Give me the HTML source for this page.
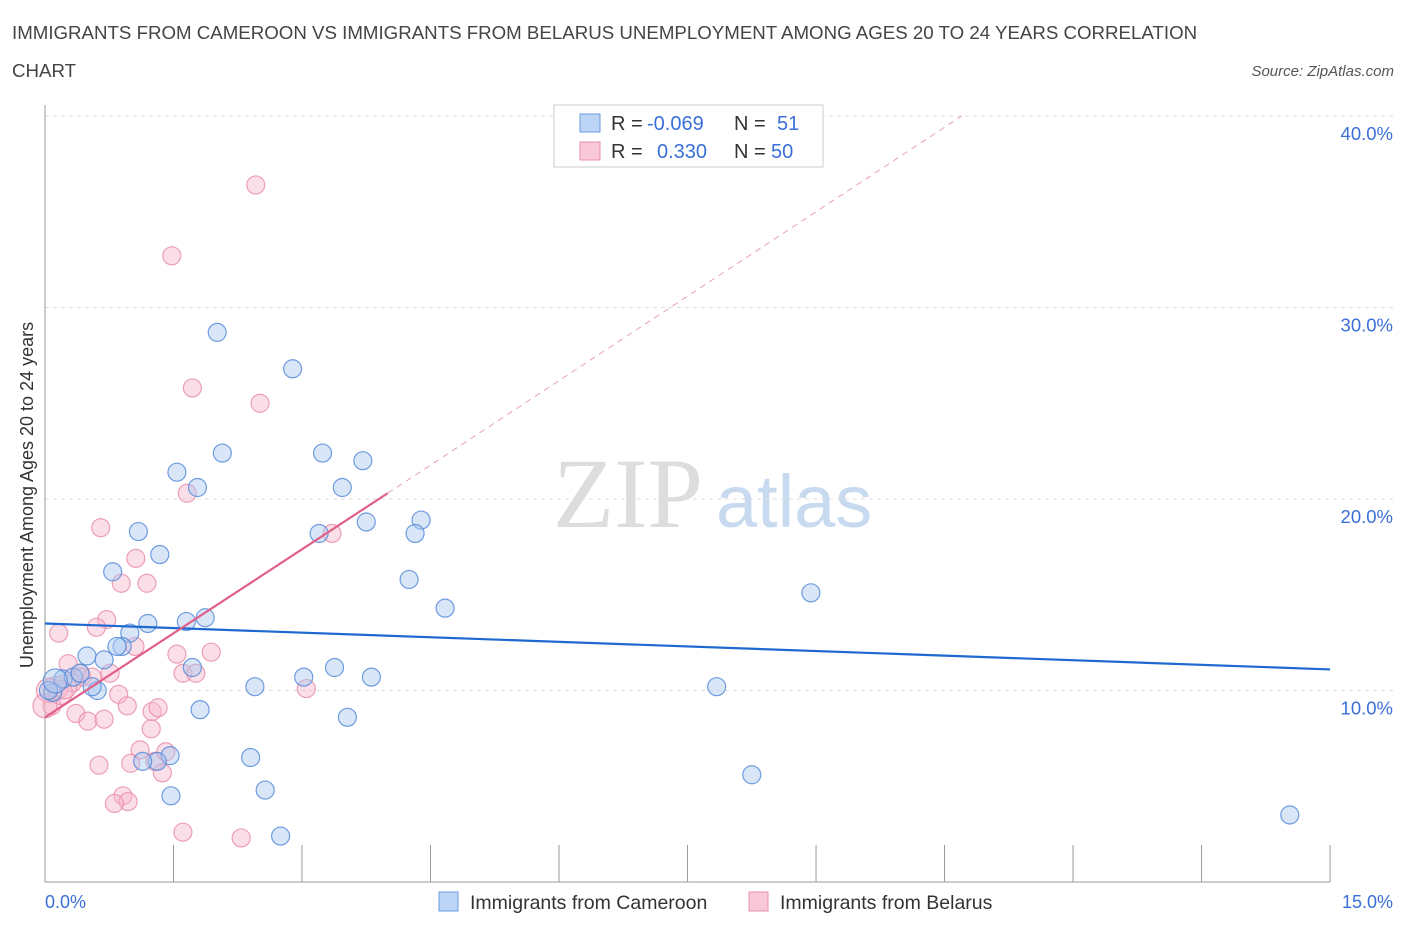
<!DOCTYPE html>
<html><head><meta charset="utf-8"><style>
body{margin:0;background:#fff;font-family:"Liberation Sans",sans-serif}
svg text{font-family:"Liberation Sans",sans-serif}
svg text.serif{font-family:"Liberation Serif",serif}
</style></head><body>
<svg width="1406" height="930">
<text x="12" y="39" font-size="18.7" fill="#444">IMMIGRANTS FROM CAMEROON VS IMMIGRANTS FROM BELARUS UNEMPLOYMENT AMONG AGES 20 TO 24 YEARS CORRELATION</text>
<text x="12" y="77" font-size="18.7" fill="#444">CHART</text>
<text x="1394" y="76" font-size="15" fill="#555" font-style="italic" text-anchor="end">Source: ZipAtlas.com</text>
<text class="serif" x="553" y="527" font-size="100" fill="#ddd">ZIP</text>
<text x="716" y="527" font-size="74" fill="#c8daf0">atlas</text>
<g id="grid"></g>
<line x1="45" y1="105" x2="45" y2="882" stroke="#999"/>
<line x1="45" y1="882" x2="1330" y2="882" stroke="#999"/>
<g id="xticks"></g>
<text x="33" y="495" font-size="18" fill="#333" text-anchor="middle" transform="rotate(-90 33 495)">Unemployment Among Ages 20 to 24 years</text>
<text x="45" y="908" font-size="18" fill="#3a6fd8">0.0%</text>
<text x="1393" y="908" font-size="18" fill="#3a6fd8" text-anchor="end">15.0%</text>
<g id="points"></g>
<g id="lines"></g>
<g>
<rect x="554" y="105" width="269" height="62" fill="#fff" stroke="#ccc"/>
<rect x="580" y="114" width="20" height="18" fill="#bcd4f5" stroke="#6a9be0"/>
<rect x="580" y="142" width="20" height="18" fill="#f8c8d8" stroke="#e890ae"/>
<text y="130" font-size="20" fill="#333"><tspan x="611">R =</tspan><tspan x="647" fill="#3a6fd8">-0.069</tspan><tspan x="734">N =</tspan><tspan x="777" fill="#3a6fd8">51</tspan></text>
<text y="158" font-size="20" fill="#333"><tspan x="611">R =</tspan><tspan x="657" fill="#3a6fd8">0.330</tspan><tspan x="734">N =</tspan><tspan x="771" fill="#3a6fd8">50</tspan></text>
</g>
<g>
<rect x="439" y="892" width="19" height="19" fill="#bcd4f5" stroke="#6a9be0"/>
<text x="470" y="909" font-size="19.5" fill="#333">Immigrants from Cameroon</text>
<rect x="749" y="892" width="19" height="19" fill="#f8c8d8" stroke="#e890ae"/>
<text x="780" y="909" font-size="19.5" fill="#333">Immigrants from Belarus</text>
</g>
</svg>
<script>
const yTicks=[10,20,30,40];
const xTickVals=[1.5,3,4.5,6,7.5,9,10.5,12,13.5,15];
const blueX=[2.01,2.89,2.07,3.24,1.54,3.71,1.78,3.47,1.09,3.75,3.2,4.39,4.32,1.34,4.25,0.79,4.67,8.94,1.2,1.65,1.87,0.99,0.9,0.84,0.49,0.69,1.72,3.38,3.02,3.81,2.45,0.61,7.84,0.21,0.33,0.09,0.04,1.81,3.53,1.46,1.31,2.4,8.25,1.47,2.57,2.75,14.53,0.55,0.41,0.12,1.14];
const blueY=[28.7,26.8,22.4,22.4,21.4,22.0,20.6,20.6,18.3,18.8,18.2,18.9,18.2,17.1,15.8,16.2,14.3,15.1,13.5,13.6,13.8,13.0,12.3,12.3,11.8,11.6,11.2,11.2,10.7,10.7,10.2,10.0,10.2,10.6,10.7,9.9,10.0,9.0,8.6,6.6,6.3,6.5,5.6,4.5,4.8,2.4,3.5,10.2,10.9,10.5,6.3];
const pinkX=[2.46,1.48,1.72,2.51,1.66,3.35,0.65,1.06,1.19,0.89,0.16,0.72,0.6,1.54,1.94,1.61,1.76,3.05,0.27,0.41,0.43,0.32,0.86,0.96,1.25,1.32,0.36,0.5,0.69,1.24,0.08,1.11,1.0,1.28,1.37,1.41,0.63,0.91,0.97,0.81,1.61,2.29,0.12,0.04,0.18,0.76,0.0,0.23,0.55,1.05];
const pinkY=[36.4,32.7,25.8,25.0,20.3,18.2,18.5,16.9,15.6,15.6,13.0,13.7,13.3,11.9,12.0,10.9,10.9,10.1,11.4,10.9,10.7,10.4,9.8,9.2,8.9,9.1,8.8,8.4,8.5,8.0,9.2,6.9,6.2,6.3,5.7,6.8,6.1,4.5,4.2,4.1,2.6,2.3,10.1,10.0,9.9,10.9,9.2,10.2,10.7,12.3];
const blueLine=[[0,13.5],[15,11.1]];
const pinkLine=[[0,8.6],[4,20.3]];
const pinkExt=[[4,20.3],[10.7,40.0]];
const sx=v=>45+v*85.67, sy=v=>882-v*19.15;
const NS='http://www.w3.org/2000/svg';
function mk(t,a,p){const e=document.createElementNS(NS,t);for(const k in a)e.setAttribute(k,a[k]);p.appendChild(e);return e;}
const grid=document.getElementById('grid');
yTicks.forEach(t=>{
 const l=mk('line',{x1:45,x2:1394,y1:sy(t),y2:sy(t),stroke:'#ddd','stroke-dasharray':'4,4'},grid);
 
 
 const tx=mk('text',{x:1393,y:sy(t)+24,'font-size':18.5,fill:'#3a6fd8','text-anchor':'end'},grid);
 tx.textContent=t.toFixed(1)+'%';
 
 
});
const xt=document.getElementById('xticks');
xTickVals.forEach(v=>{
 const l=mk('line',{x1:sx(v),x2:sx(v),y1:845,y2:882,stroke:'#999'},xt);
 
 
});
const pts=document.getElementById('points');
function draw(xs,ys,fill,stroke,name){
 xs.forEach((x,i)=>{
  const r=(i>=xs.length-9&&x<0.3)?12:9;
  const c=mk('circle',{cx:sx(x),cy:sy(ys[i]),r:r,fill:fill,'fill-opacity':0.45,stroke:stroke,'stroke-opacity':0.8,'stroke-width':1.2},pts);
  
  
 });
}
draw(pinkX,pinkY,'#f6b8cc','#e88aa8','belarus-point');
draw(blueX,blueY,'#a9c8f0','#4f86d8','cameroon-point');
const ln=document.getElementById('lines');
function line(d,st,w,dash,name){
 const l=mk('line',{x1:sx(d[0][0]),y1:sy(d[0][1]),x2:sx(d[1][0]),y2:sy(d[1][1]),stroke:st,'stroke-width':w},ln);
 if(dash)l.setAttribute('stroke-dasharray',dash);
 
 
}
line(blueLine,'#1f68d0',2.2,null,'cameroon-trend-line');
line(pinkLine,'#e0608a',2.2,null,'belarus-trend-line');
line(pinkExt,'#e8a0b8',1,'6,5','belarus-trend-extension');
</script>
</body></html>
